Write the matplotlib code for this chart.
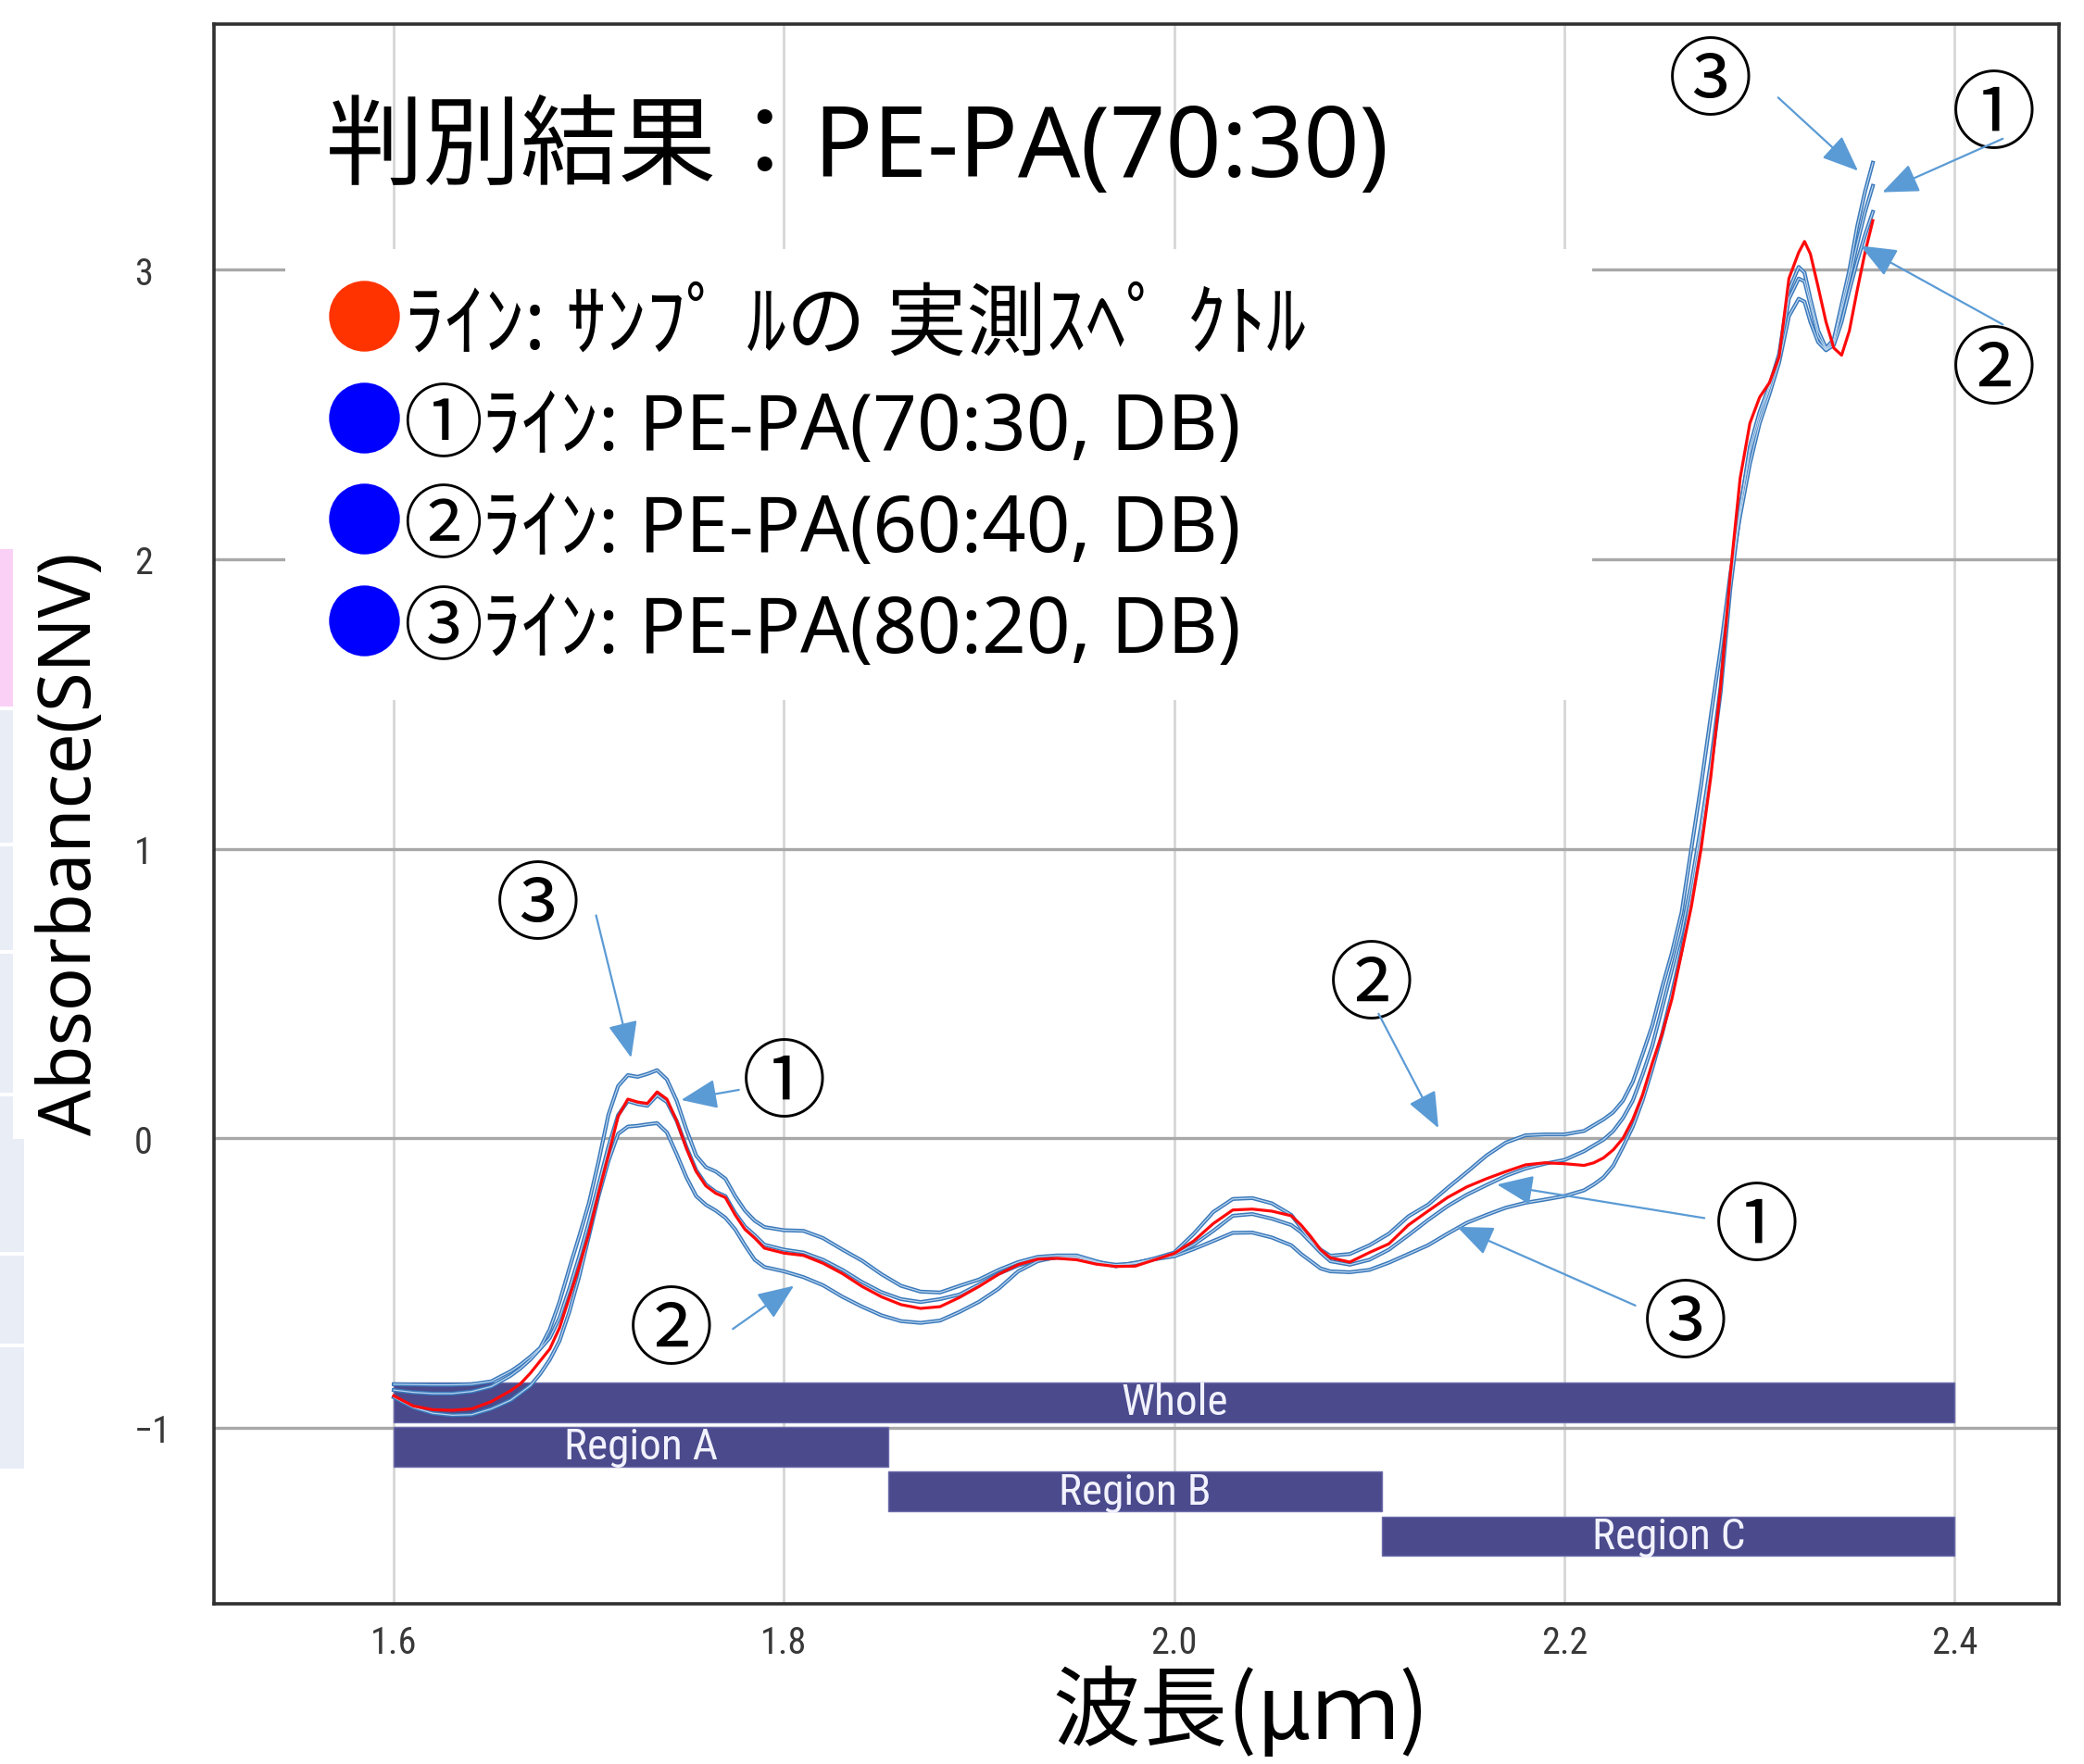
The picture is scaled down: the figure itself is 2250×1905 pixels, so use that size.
import matplotlib
matplotlib.use("Agg")
import matplotlib.pyplot as plt
from matplotlib import font_manager
from matplotlib.patches import Rectangle

# wavelength grid (um)
wavelength = [
    1.600, 1.610, 1.620, 1.630, 1.640, 1.650, 1.660, 1.665, 1.670, 1.675,
    1.680, 1.685, 1.690, 1.695, 1.700, 1.705, 1.710, 1.715, 1.720, 1.725,
    1.730, 1.735, 1.740, 1.745, 1.750, 1.755, 1.760, 1.765, 1.770, 1.775,
    1.780, 1.785, 1.790, 1.800, 1.810, 1.820, 1.830, 1.840, 1.850, 1.860,
    1.870, 1.880, 1.890, 1.900, 1.910, 1.920, 1.930, 1.940, 1.950, 1.960,
    1.970, 1.980, 1.990, 2.000, 2.010, 2.020, 2.030, 2.040, 2.050, 2.060,
    2.065, 2.070, 2.075, 2.080, 2.090, 2.100, 2.110, 2.120, 2.130, 2.140,
    2.150, 2.160, 2.170, 2.180, 2.190, 2.200, 2.210, 2.215, 2.220, 2.225,
    2.230, 2.235, 2.240, 2.245, 2.250, 2.255, 2.260, 2.265, 2.270, 2.275,
    2.280, 2.285, 2.290, 2.295, 2.300, 2.305, 2.310, 2.315, 2.320, 2.323,
    2.326, 2.330, 2.334, 2.338, 2.342, 2.346, 2.350, 2.354, 2.358,
]

# measured sample spectrum (red)
sample = [
    -0.890, -0.925, -0.938, -0.940, -0.935, -0.910, -0.872, -0.848, -0.812, -0.770,
    -0.728, -0.655, -0.550, -0.445, -0.330, -0.190, -0.060, 0.075, 0.135, 0.125,
    0.120, 0.160, 0.135, 0.060, -0.035, -0.115, -0.165, -0.190, -0.205, -0.265,
    -0.315, -0.345, -0.380, -0.397, -0.405, -0.432, -0.468, -0.512, -0.548, -0.575,
    -0.588, -0.582, -0.550, -0.512, -0.470, -0.437, -0.418, -0.415, -0.420, -0.435,
    -0.443, -0.442, -0.420, -0.398, -0.355, -0.295, -0.248, -0.245, -0.252, -0.268,
    -0.300, -0.340, -0.385, -0.413, -0.428, -0.395, -0.365, -0.300, -0.252, -0.205,
    -0.168, -0.140, -0.115, -0.092, -0.085, -0.088, -0.094, -0.085, -0.068, -0.040,
    0.000, 0.065, 0.150, 0.260, 0.360, 0.480, 0.640, 0.800, 1.000, 1.250,
    1.560, 1.950, 2.280, 2.470, 2.560, 2.610, 2.700, 2.970, 3.060, 3.098,
    3.055, 2.940, 2.820, 2.730, 2.705, 2.790, 2.930, 3.060, 3.170,
]

# (1) PE-PA(70:30, DB)
ref_7030 = [
    -0.870, -0.878, -0.882, -0.882, -0.875, -0.858, -0.820, -0.795, -0.765, -0.728,
    -0.690, -0.620, -0.520, -0.410, -0.290, -0.160, -0.030, 0.080, 0.128, 0.118,
    0.112, 0.148, 0.125, 0.060, -0.030, -0.110, -0.160, -0.185, -0.200, -0.258,
    -0.305, -0.335, -0.368, -0.385, -0.395, -0.420, -0.455, -0.497, -0.532, -0.556,
    -0.566, -0.556, -0.540, -0.505, -0.468, -0.440, -0.420, -0.413, -0.415, -0.428,
    -0.437, -0.433, -0.418, -0.402, -0.368, -0.320, -0.268, -0.262, -0.278, -0.300,
    -0.325, -0.360, -0.395, -0.425, -0.437, -0.420, -0.385, -0.335, -0.283, -0.235,
    -0.195, -0.162, -0.130, -0.105, -0.088, -0.075, -0.045, -0.025, -0.005, 0.025,
    0.070, 0.130, 0.220, 0.320, 0.450, 0.580, 0.710, 0.880, 1.080, 1.300,
    1.560, 1.930, 2.180, 2.370, 2.490, 2.590, 2.700, 2.900, 2.970, 2.960,
    2.880, 2.770, 2.725, 2.750, 2.860, 2.970, 3.090, 3.200, 3.290,
]

# (2) PE-PA(60:40, DB)
ref_6040 = [
    -0.895, -0.930, -0.950, -0.957, -0.955, -0.935, -0.905, -0.880, -0.855, -0.815,
    -0.765, -0.700, -0.600, -0.480, -0.340, -0.200, -0.080, 0.015, 0.040, 0.043,
    0.048, 0.052, 0.020, -0.055, -0.135, -0.200, -0.230, -0.250, -0.275, -0.315,
    -0.370, -0.420, -0.445, -0.460, -0.480, -0.508, -0.548, -0.582, -0.612, -0.632,
    -0.638, -0.630, -0.600, -0.565, -0.520, -0.460, -0.425, -0.410, -0.410, -0.428,
    -0.442, -0.432, -0.415, -0.395, -0.330, -0.255, -0.210, -0.207, -0.225, -0.265,
    -0.310, -0.355, -0.385, -0.406, -0.400, -0.370, -0.330, -0.270, -0.230, -0.172,
    -0.117, -0.060, -0.015, 0.010, 0.013, 0.013, 0.025, 0.045, 0.065, 0.090,
    0.130, 0.195, 0.290, 0.390, 0.520, 0.640, 0.780, 1.000, 1.220, 1.460,
    1.690, 1.950, 2.150, 2.330, 2.470, 2.570, 2.680, 2.840, 2.900, 2.890,
    2.820, 2.750, 2.722, 2.740, 2.820, 2.930, 3.030, 3.120, 3.200,
]

# (3) PE-PA(80:20, DB)
ref_8020 = [
    -0.850, -0.851, -0.852, -0.852, -0.850, -0.840, -0.805, -0.782, -0.755, -0.725,
    -0.660, -0.565, -0.450, -0.340, -0.225, -0.080, 0.080, 0.180, 0.218, 0.212,
    0.222, 0.235, 0.203, 0.130, 0.030, -0.060, -0.100, -0.115, -0.140, -0.200,
    -0.250, -0.285, -0.307, -0.318, -0.320, -0.345, -0.385, -0.423, -0.470, -0.510,
    -0.530, -0.533, -0.510, -0.488, -0.455, -0.428, -0.410, -0.405, -0.405, -0.425,
    -0.442, -0.430, -0.418, -0.408, -0.383, -0.355, -0.327, -0.326, -0.343, -0.370,
    -0.400, -0.425, -0.450, -0.460, -0.463, -0.455, -0.430, -0.400, -0.370, -0.330,
    -0.292, -0.265, -0.240, -0.223, -0.212, -0.200, -0.180, -0.160, -0.135, -0.095,
    -0.030, 0.040, 0.130, 0.240, 0.360, 0.500, 0.650, 0.840, 1.050, 1.280,
    1.540, 1.900, 2.170, 2.390, 2.510, 2.600, 2.710, 2.930, 3.010, 2.990,
    2.900, 2.790, 2.730, 2.760, 2.880, 3.000, 3.150, 3.270, 3.370,
]

# wavelength ranges used for discrimination
region_names = ["Whole", "Region A", "Region B", "Region C"]
region_start = [1.600, 1.600, 1.8535, 2.1066]
region_end = [2.400, 1.8535, 2.1066, 2.400]

title_text = "判別結果：PE-PA(70:30)"
legend_marks = ["", "①", "②", "③"]
legend_labels = [
    "ﾗｲﾝ: ｻﾝﾌﾟ ﾙの 実測ｽﾍﾟ ｸﾄﾙ",
    "ﾗｲﾝ: PE-PA(70:30, DB)",
    "ﾗｲﾝ: PE-PA(60:40, DB)",
    "ﾗｲﾝ: PE-PA(80:20, DB)",
]
legend_colors = ["#ff3300", "#0000ff", "#0000ff", "#0000ff"]

x_ticks = [1.6, 1.8, 2.0, 2.2, 2.4]
x_ticklabels = ["1.6", "1.8", "2.0", "2.2", "2.4"]
y_ticks = [-1, 0, 1, 2, 3]
y_ticklabels = ["−1", "0", "1", "2", "3"]

# callouts: label, label centre, arrow tail, arrow head
callouts = [
    ("③", (2.2748, 3.643), (2.3095, 3.595), (2.3504, 3.342)),
    ("①", (2.4199, 3.528), (2.4246, 3.453), (2.3629, 3.268)),
    ("②", (2.4199, 2.647), (2.4246, 2.811), (2.3516, 3.083)),
    ("③", (1.6741, 0.797), (1.7037, 0.770), (1.7217, 0.278)),
    ("①", (1.8001, 0.182), (1.7769, 0.167), (1.7473, 0.132)),
    ("②", (1.7422, -0.672), (1.7738, -0.659), (1.8051, -0.510)),
    ("②", (2.1012, 0.521), (2.1047, 0.430), (2.1354, 0.035)),
    ("①", (2.2986, -0.314), (2.2717, -0.276), (2.1654, -0.160)),
    ("③", (2.2619, -0.649), (2.2363, -0.578), (2.1449, -0.306)),
]

installed = {f.name for f in font_manager.fontManager.ttflist}
narrow = next((n for n in ("Liberation Sans Narrow", "Roboto Condensed", "Open Sans Condensed")
               if n in installed), None)
if narrow:
    tick_font, tick_size, bar_size = narrow, 29, 34
else:
    tick_font, tick_size, bar_size = "DejaVu Sans", 23, 26

plt.rcParams["font.family"] = ["Noto Sans", "Noto Sans CJK JP"]
cjk = ["Noto Sans CJK JP", "DejaVu Sans"]

fig = plt.figure(figsize=(22.5, 19.06), dpi=100)
fig.patch.set_facecolor("white")

# strip of table cells at the left edge of the slide
cell_boxes = [
    (0, 594, 14, 764, "#fbd0f7"),
    (0, 768, 14, 911, "#e9edf6"),
    (0, 915, 14, 1027, "#e9edf6"),
    (0, 1031, 14, 1181, "#e9edf6"),
    (0, 1185, 14, 1231, "#e9edf6"),
    (0, 1231, 26, 1353, "#e9edf6"),
    (0, 1357, 26, 1452, "#e9edf6"),
    (0, 1456, 26, 1587, "#e9edf6"),
]
for x0, y0, x1, y1, c in cell_boxes:
    fig.add_artist(Rectangle((x0 / 2250, 1 - y1 / 1906), (x1 - x0) / 2250, (y1 - y0) / 1906,
                             transform=fig.transFigure, facecolor=c, edgecolor="none"))

ax = fig.add_axes([0.10267, 0.09077, 0.88533, 0.89507])
ax.set_xlim(1.5079, 2.4534)
ax.set_ylim(-1.6085, 3.849)

for s in ax.spines.values():
    s.set_color("#303030")
    s.set_linewidth(2.6)

ax.set_axisbelow(True)
ax.xaxis.grid(True, color="#d6d6d6", lw=2.0)
ax.yaxis.grid(True, color="#a8a8a8", lw=2.4)

ax.set_xticks(x_ticks, x_ticklabels, fontfamily=tick_font, fontsize=tick_size, color="#383838")
ax.set_yticks(y_ticks, y_ticklabels, fontfamily=tick_font, fontsize=tick_size, color="#383838",
              ha="left")
ax.tick_params(axis="both", length=0)
ax.tick_params(axis="x", pad=16)
ax.tick_params(axis="y", pad=62)

# white panel behind the legend text
ax.add_patch(Rectangle((1.5445, 1.514), 2.2141 - 1.5445, 3.072 - 1.514,
                       facecolor="white", edgecolor="none", zorder=1))

# region bars
bar_rows = [-0.912, -1.066, -1.221, -1.375]
widths = [e - s for s, e in zip(region_start, region_end)]
ax.barh(bar_rows, widths, left=region_start, height=0.137, color="#4a4a8c",
        edgecolor="#6c6cac", linewidth=1.0, zorder=2)
for name, s, e, yc in zip(region_names, region_start, region_end, bar_rows):
    ax.text((s + e) / 2, yc, name, ha="center", va="center", color="#f2f2ff",
            fontfamily=tick_font, fontsize=bar_size, zorder=2.5)

# spectra
for vals in (ref_6040, ref_8020, ref_7030):
    ax.plot(wavelength, vals, color="#3a78ba", lw=3.0, zorder=3, solid_joinstyle="round")
    ax.plot(wavelength, vals, color="#b9d5ef", lw=0.9, zorder=3.1)
ax.plot(wavelength, sample, color="#ff0a0a", lw=2.3, zorder=4, solid_joinstyle="round")

# title and legend
ax.text(1.5654, 3.323, title_text, fontsize=76, va="baseline", ha="left", zorder=6)
row_base = [2.730, 2.380, 2.030, 1.679]
for mark, lab, col, yb in zip(legend_marks, legend_labels, legend_colors, row_base):
    ax.plot([1.5848], [yb + 0.11], "o", ms=55, color=col, mec="none", zorder=6)
    if mark:
        ax.text(1.6050, yb, mark, fontsize=62, va="baseline", ha="left", family=cjk, zorder=6)
        ax.text(1.6455, yb, lab, fontsize=60, va="baseline", ha="left", zorder=6)
    else:
        ax.text(1.6057, yb, lab, fontsize=62, va="baseline", ha="left", zorder=6)

# numbered callouts
for lab, pos, tail, head in callouts:
    ax.text(pos[0], pos[1], lab, fontsize=66, ha="center", va="center",
            family=cjk, zorder=7)
    ax.annotate("", xy=head, xytext=tail,
                arrowprops=dict(arrowstyle="-|>,head_length=1.1,head_width=0.45",
                                color="#5b9bd5", lw=1.6, mutation_scale=22,
                                shrinkA=0, shrinkB=0),
                zorder=7)

fig.text(78 / 2250, 1 - 911 / 1906, "Absorbance(SNV)", rotation=90, ha="center",
         va="center", fontsize=56)
fig.text(1340 / 2250, 0.003, "波長(μｍ)", ha="center", va="bottom",
         fontsize=68, family=cjk)

fig.savefig("out.png", dpi=100)
